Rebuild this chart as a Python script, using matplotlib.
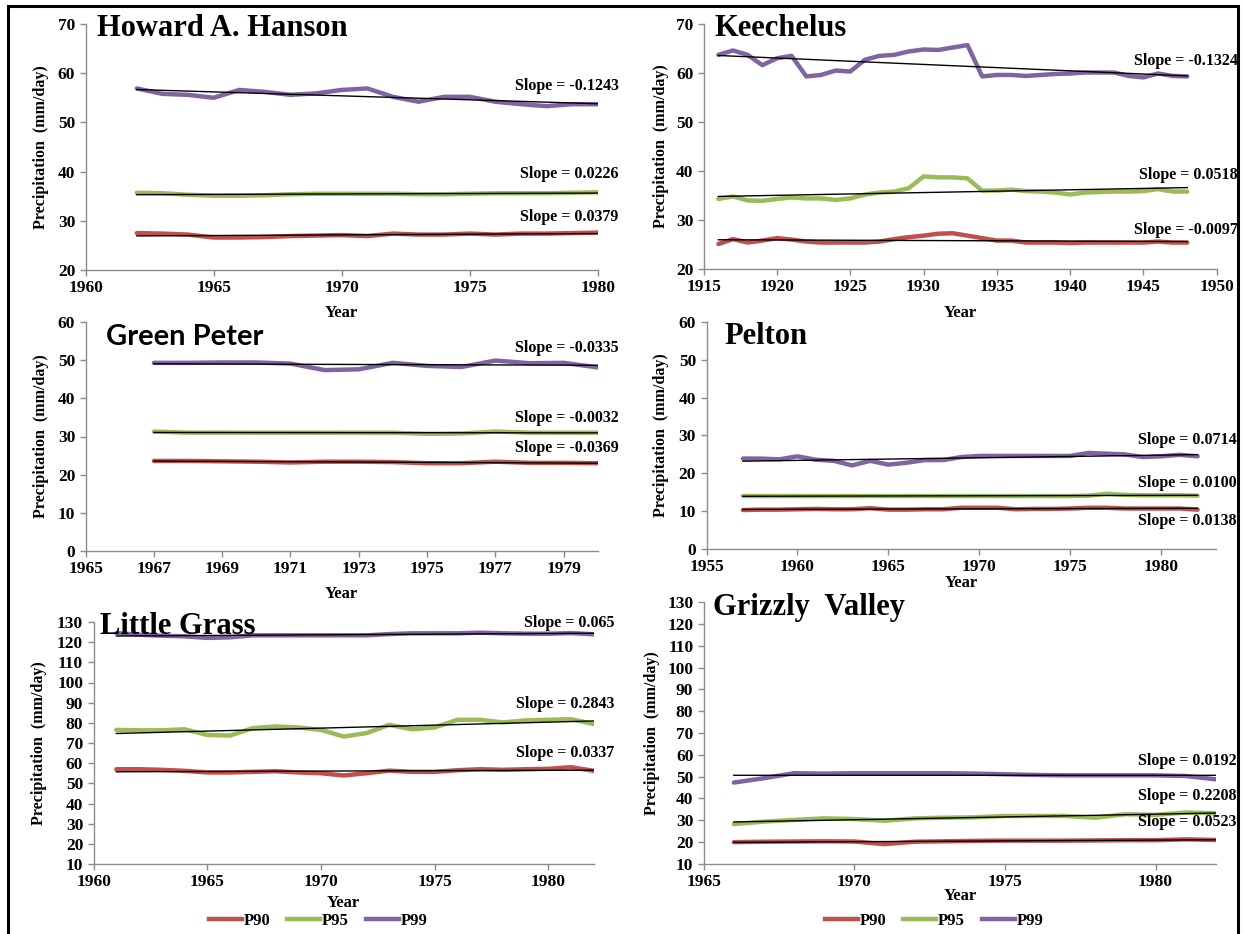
import numpy as np
import matplotlib
matplotlib.use("Agg")
import matplotlib.pyplot as plt
from matplotlib.patches import Rectangle
from matplotlib.lines import Line2D

W, H = 1245, 934

plt.rcParams['font.family'] = ['Liberation Serif', 'DejaVu Serif']
plt.rcParams['font.weight'] = 'bold'

C90, C95, C99 = '#C0504D', '#9BBB59', '#8064A2'

# ---- data (slopes listed as P90, P95, P99) ----
hanson_years = list(range(1962, 1981))
hanson_p90 = [27.5, 27.4, 27.2, 26.6, 26.6, 26.7, 26.9, 27.0, 27.1, 26.9, 27.4, 27.2, 27.2, 27.4, 27.2, 27.4, 27.4, 27.5, 27.6]
hanson_p95 = [35.7, 35.6, 35.3, 35.1, 35.1, 35.2, 35.4, 35.5, 35.5, 35.5, 35.5, 35.4, 35.4, 35.5, 35.6, 35.6, 35.6, 35.7, 35.8]
hanson_p99 = [56.9, 55.8, 55.6, 55.0, 56.6, 56.2, 55.6, 55.9, 56.6, 56.9, 55.2, 54.2, 55.2, 55.2, 54.2, 53.7, 53.3, 53.7, 53.7]
hanson_slopes = ['0.0379', '0.0226', '-0.1243']

keech_years = list(range(1916, 1949))
keech_p90 = [25.1, 26.1, 25.4, 25.8, 26.3, 26.0, 25.6, 25.4, 25.4, 25.4, 25.4, 25.6, 26.1, 26.5, 26.8, 27.2,
             27.3, 26.8, 26.3, 25.8, 25.8, 25.4, 25.4, 25.4, 25.3, 25.4, 25.4, 25.4, 25.4, 25.4, 25.6, 25.4, 25.4]
keech_p95 = [34.3, 34.8, 34.0, 33.9, 34.3, 34.6, 34.4, 34.4, 34.1, 34.4, 35.2, 35.6, 35.8, 36.5, 38.9, 38.7,
             38.7, 38.5, 36.0, 36.0, 36.2, 35.9, 35.8, 35.6, 35.2, 35.6, 35.7, 35.8, 35.8, 35.9, 36.3, 35.8, 35.8]
keech_p99 = [63.7, 64.6, 63.7, 61.6, 63.0, 63.5, 59.3, 59.6, 60.5, 60.3, 62.7, 63.5, 63.7, 64.4, 64.8, 64.7,
             65.2, 65.7, 59.3, 59.6, 59.6, 59.4, 59.6, 59.8, 59.9, 60.1, 60.1, 60.1, 59.4, 59.1, 59.9, 59.4, 59.3]
keech_slopes = ['-0.0097', '0.0518', '-0.1324']

green_years = list(range(1967, 1981))
green_p90 = [23.6, 23.6, 23.5, 23.4, 23.2, 23.4, 23.4, 23.3, 23.0, 23.0, 23.4, 23.1, 23.1, 23.0]
green_p95 = [31.3, 31.0, 31.0, 31.0, 31.0, 31.0, 31.0, 31.0, 30.7, 30.8, 31.3, 31.0, 31.0, 31.0]
green_p99 = [49.3, 49.3, 49.4, 49.4, 49.1, 47.4, 47.6, 49.3, 48.5, 48.2, 49.9, 49.2, 49.3, 48.1]
green_slopes = ['-0.0369', '-0.0032', '-0.0335']

pelton_years = list(range(1957, 1983))
pelton_p90 = [10.3, 10.4, 10.4, 10.5, 10.6, 10.5, 10.5, 10.8, 10.4, 10.4, 10.5, 10.5, 10.9, 10.9,
              10.9, 10.5, 10.6, 10.6, 10.7, 10.9, 10.9, 10.7, 10.7, 10.7, 10.7, 10.4]
pelton_p95 = [14.0, 14.0, 14.0, 14.0, 14.0, 14.0, 14.0, 14.0, 14.0, 14.0, 14.0, 14.0, 14.0, 14.0,
              14.0, 14.0, 14.0, 14.0, 14.0, 14.1, 14.6, 14.3, 14.2, 14.2, 14.2, 14.1]
pelton_p99 = [23.9, 23.9, 23.7, 24.5, 23.6, 23.3, 22.1, 23.3, 22.3, 22.8, 23.5, 23.5, 24.3, 24.6,
              24.6, 24.6, 24.6, 24.6, 24.6, 25.4, 25.2, 25.0, 24.3, 24.5, 24.9, 24.5]
pelton_slopes = ['0.0138', '0.0100', '0.0714']

grass_years = list(range(1961, 1983))
grass_p90 = [57.0, 57.0, 56.7, 56.2, 55.4, 55.4, 55.7, 56.0, 55.4, 55.0, 53.9, 55.0, 56.3, 55.7, 55.7,
             56.5, 57.0, 56.7, 57.0, 57.2, 58.0, 56.2]
grass_p95 = [76.5, 76.3, 76.3, 76.8, 74.0, 73.7, 77.4, 78.2, 77.7, 76.5, 73.2, 74.9, 79.0, 76.8, 77.7,
             81.5, 81.5, 80.2, 81.2, 81.5, 81.8, 79.4]
grass_p99 = [124.5, 123.7, 123.2, 122.9, 122.1, 122.4, 123.4, 123.4, 123.4, 123.4, 123.4, 123.4, 124.0,
             124.4, 124.4, 124.4, 124.7, 124.4, 124.2, 124.2, 124.5, 123.9]
grass_slopes = ['0.0337', '0.2843', '0.065']

grizzly_years = list(range(1966, 1983))
grizzly_p90 = [20.0, 20.2, 20.3, 20.4, 20.3, 19.1, 20.2, 20.4, 20.6, 20.7, 20.7, 20.7, 20.8, 20.9, 20.9, 21.3, 21.0]
grizzly_p95 = [28.3, 29.4, 30.2, 30.9, 30.6, 29.8, 30.9, 31.2, 31.4, 32.0, 32.0, 32.0, 31.2, 32.8, 32.5, 33.6, 33.2]
grizzly_p99 = [47.3, 49.3, 51.6, 51.4, 51.6, 51.6, 51.6, 51.6, 51.4, 51.1, 50.8, 50.6, 50.6, 50.6, 50.6, 50.3, 48.8]
grizzly_slopes = ['0.0523', '0.2208', '0.0192']

# ---- layout (pixels in the 1245x934 picture) ----
panels = [
    dict(name='Howard A. Hanson', years=hanson_years, series=(hanson_p90, hanson_p95, hanson_p99),
         slopes=hanson_slopes, box=(85.6, 24, 597.8, 270), xlim=(1960, 1980), xstep=5, ylim=(20, 70),
         ystep=10, label_y=(30.8, 39.5, 57.4), title_xy=(97, 29), tfont=None, ylab_x=41, xlab_y=313),
    dict(name='Keechelus', years=keech_years, series=(keech_p90, keech_p95, keech_p99),
         slopes=keech_slopes, box=(703.7, 24, 1216.6, 269), xlim=(1915, 1950), xstep=5, ylim=(20, 70),
         ystep=10, label_y=(28.0, 39.2, 62.5), title_xy=(714, 29), tfont=None, ylab_x=661, xlab_y=313),
    dict(name='Green Peter', years=green_years, series=(green_p90, green_p95, green_p99),
         slopes=green_slopes, box=(85.6, 322, 597.8, 551), xlim=(1965, 1980), xstep=2, ylim=(0, 60),
         ystep=10, label_y=(26.9, 34.9, 53.1), title_xy=(106, 337), tfont='Lato', ylab_x=41, xlab_y=594),
    dict(name='Pelton', years=pelton_years, series=(pelton_p90, pelton_p95, pelton_p99),
         slopes=pelton_slopes, box=(706.5, 322, 1215.8, 549), xlim=(1955, 1983), xstep=5, ylim=(0, 60),
         ystep=10, label_y=(7.4, 17.5, 28.9), title_xy=(724, 337), tfont=None, ylab_x=661, xlab_y=583),
    dict(name='Little Grass', years=grass_years, series=(grass_p90, grass_p95, grass_p99),
         slopes=grass_slopes, box=(93.6, 622, 593.8, 864), xlim=(1960, 1982), xstep=5, ylim=(10, 130),
         ystep=10, label_y=(65.0, 89.5, 129.5), title_xy=(100, 627), tfont=None, ylab_x=39, xlab_y=903),
    dict(name='Grizzly  Valley', years=grizzly_years, series=(grizzly_p90, grizzly_p95, grizzly_p99),
         slopes=grizzly_slopes, box=(703.7, 602, 1215.8, 864), xlim=(1965, 1982), xstep=5, ylim=(10, 130),
         ystep=10, label_y=(29.1, 41.2, 57.2), title_xy=(713, 607), tfont=None, ylab_x=652, xlab_y=896),
]

fig = plt.figure(figsize=(W / 100, H / 100), dpi=100)

for p in panels:
    l, t, r, b = p['box']
    ax = fig.add_axes([l / W, 1 - b / H, (r - l) / W, (b - t) / H])
    yrs = np.array(p['years'])
    for vals, col in zip(p['series'], (C90, C95, C99)):
        ax.plot(yrs, vals, color=col, lw=3.2, solid_joinstyle='round', solid_capstyle='round', zorder=2)
    for vals in p['series']:
        k, c = np.polyfit(yrs, vals, 1)
        ax.plot(yrs, k * yrs + c, color='black', lw=1, zorder=3)
    for txt, ly in zip(p['slopes'], p['label_y']):
        ax.annotate('Slope = ' + txt, xy=(1, ly), xycoords=('axes fraction', 'data'),
                    xytext=(15, 0), textcoords='offset points', ha='right', va='center',
                    fontsize=11.5, fontweight='bold', annotation_clip=False)

    ax.set_xlim(*p['xlim'])
    ax.set_ylim(*p['ylim'])
    ax.set_xticks(np.arange(p['xlim'][0], p['xlim'][1] + 1, p['xstep']))
    ax.set_yticks(np.arange(p['ylim'][0], p['ylim'][1] + 1, p['ystep']))
    for s in ('top', 'right'):
        ax.spines[s].set_visible(False)
    for s in ('left', 'bottom'):
        ax.spines[s].set_color('#8c8c8c')
        ax.spines[s].set_linewidth(1)
    ax.tick_params(direction='out', length=4.5, width=1, color='#8c8c8c', labelsize=12.5, pad=3)
    for lab in ax.get_xticklabels() + ax.get_yticklabels():
        lab.set_fontweight('bold')

    ax.set_ylabel('Precipitation  (mm/day)', fontsize=11.5, fontweight='bold')
    ax.yaxis.set_label_coords((p['ylab_x'] - l) / (r - l), 0.5)
    ax.yaxis.label.set_va('center')
    ax.set_xlabel('Year', fontsize=12, fontweight='bold')
    ax.xaxis.set_label_coords(0.5, -(p['xlab_y'] - b) / (b - t))
    ax.xaxis.label.set_va('center')

    tx, ty = p['title_xy']
    tkw = dict(fontsize=22, fontweight='bold', ha='left', va='center')
    if p['tfont']:
        tkw['family'] = p['tfont']
        tkw['fontsize'] = 21
    fig.text(tx / W, 1 - ty / H, p['name'], **tkw)

# legends under the two bottom panels
handles = [Line2D([], [], color=c, lw=3.2) for c in (C90, C95, C99)]
for cx in (318, 934):
    fig.legend(handles, ['P90', 'P95', 'P99'], loc='center', bbox_to_anchor=(cx / W, 1 - 921 / H),
               ncol=3, frameon=False, handlelength=2.0, handletextpad=0.1,
               columnspacing=1.0, prop={'weight': 'bold', 'size': 12})

# outer frame
fig.patches.append(Rectangle((8 / W, -0.02), (1238 - 8) / W, 1.02 - 6 / H, transform=fig.transFigure,
                             fill=False, edgecolor='black', lw=2.2))

fig.savefig('out.png', dpi=100)
